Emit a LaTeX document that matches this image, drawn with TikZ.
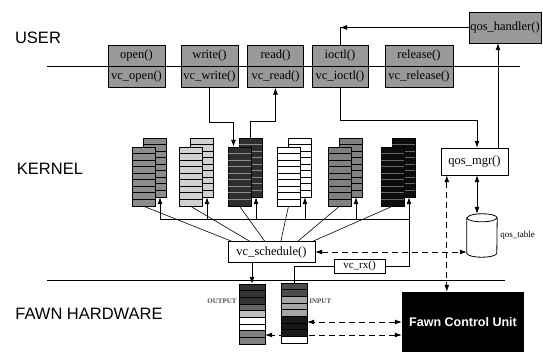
\documentclass[tikz,border=0pt]{standalone}
\usepackage{fontspec}
\setmainfont{Liberation Serif}
\setsansfont{Liberation Sans}
\usepackage{tikz}
\usetikzlibrary{arrows.meta, positioning, shapes.geometric, calc}

\begin{document}
\begin{tikzpicture}[x=1pt, y=-1pt,
    layer/.style={font=\sffamily\fontsize{16.5}{18}\selectfont, inner sep=0pt},
    ubox/.style={rectangle, draw, fill=black!40, minimum width=57pt, minimum height=21pt, inner sep=0pt, font=\fontsize{12.5}{13}\selectfont},
    fbox/.style={rectangle, draw, fill=white, inner sep=0pt, font=\fontsize{12.5}{13}\selectfont},
    queue/.style={rectangle, draw, minimum width=23pt, minimum height=59pt, inner sep=0pt},
    buf/.style={rectangle, draw, minimum width=26pt, minimum height=60pt, inner sep=0pt},
    buflbl/.style={font=\bfseries\fontsize{7}{7}\selectfont, text=black!70, inner sep=0pt},
    arr/.style={-{Latex[length=7pt,width=5pt]}, thick},
    darr/.style={{Latex[length=7pt,width=5pt]}-{Latex[length=7pt,width=5pt]}, thick, dash pattern=on 6pt off 4pt}
]
\useasboundingbox (0,0) rectangle (543,352);

\node[layer] (user) at (38,37.5) {USER};
\node[layer] (kernel) at (50,168.5) {KERNEL};
\node[layer] (hw) at (89,314) {FAWN HARDWARE};
\draw[thick] (47,66) -- (520,66);
\draw[thick] (47,280) -- (505,280);

% system calls
\node[ubox] (open) at (136.5,55.5) {open()};
\node[ubox, below=0pt of open] (vcopen) {vc\_open()};
\node[ubox] (write) at (209.5,55.5) {write()};
\node[ubox, below=0pt of write] (vcwrite) {vc\_write()};
\node[ubox, minimum width=56pt] (read) at (275.5,55.5) {read()};
\node[ubox, minimum width=56pt, below=0pt of read] (vcread) {vc\_read()};
\node[ubox, minimum width=56pt] (ioctl) at (340,55.5) {ioctl()};
\node[ubox, minimum width=56pt, below=0pt of ioctl] (vcioctl) {vc\_ioctl()};
\node[ubox, minimum width=68pt] (release) at (419,55.5) {release()};
\node[ubox, minimum width=68pt, below=0pt of release] (vcrelease) {vc\_release()};
\node[ubox, minimum width=72pt, minimum height=31pt] (qh) at (505,27.5) {qos\_handler()};

\draw[thick] (ioctl.north) -- (ioctl.north |- qh.west) coordinate (bend);
\draw[arr] (qh.west) -- (bend);

% queues
\foreach \n/\x/\c/\s in {1/132/black!45/black, 2/179/black!18/black, 3/228/black!82/black!45, 4/277/white/black, 5/328/black!50/black, 6/381/black!95/black!60} {
  \node[queue, fill=\c] (qb\n) at (\x+22.5,167.5) {};
  \foreach \k in {1,...,8}
    \draw[\s] ([yshift=-\k*6.55pt]qb\n.north west) -- ([yshift=-\k*6.55pt]qb\n.north east);
  \node[queue, fill=\c] (qf\n) at (\x+11.5,176.5) {};
  \foreach \k in {1,...,8}
    \draw[\s] ([yshift=-\k*6.55pt]qf\n.north west) -- ([yshift=-\k*6.55pt]qf\n.north east);
}

\draw[arr] (vcwrite.south) -- ++(0,35) -| ([xshift=-6pt]qf3.north);
\draw[arr] (qb3.north) -- ++(0,-16) -| (vcread.south);

% kernel functions
\node[fbox, minimum width=87pt, minimum height=21pt] (vcsched) at (271.5,252) {vc\_schedule()};
\node[fbox, minimum width=51pt, minimum height=14pt, font=\fontsize{11}{11}\selectfont] (vcrx) at (359.5,266) {vc\_rx()};
\node[fbox, minimum width=67pt, minimum height=27pt] (qmgr) at (474.5,161.5) {qos\_mgr()};
\node[minimum width=30pt, minimum height=43pt, inner sep=0pt] (qtable) at (482,235.5) {};
\draw[thick, fill=white] ([yshift=-4pt]qtable.north west) -- ([yshift=4pt]qtable.south west)
  arc[start angle=180, end angle=360, x radius=15pt, y radius=4pt]
  -- ([yshift=-4pt]qtable.north east)
  arc[start angle=0, end angle=180, x radius=15pt, y radius=4pt] -- cycle;
\draw[thick] ([yshift=-4pt]qtable.north west) arc[start angle=180, end angle=360, x radius=15pt, y radius=4pt];
\node[right=3pt of qtable, font=\fontsize{9}{9}\selectfont, inner sep=0pt] (qtlbl) {qos\_table};

\coordinate (bus1) at ([xshift=5.5pt, yshift=-22pt]qb1.south);
\coordinate (bus6) at ([xshift=5.5pt, yshift=-22pt]qb6.south);
\draw[thick] (bus1) -- (bus6);
\foreach \n in {1,...,5}
  \draw[arr] ([xshift=5.5pt]qb\n.south |- bus1) -- ([xshift=5.5pt]qb\n.south);
\draw[arr] (vcrx.east) -| ([xshift=5.5pt]qb6.south);
\foreach \n/\o in {1/4, 2/22, 3/37, 4/53, 5/70, 6/85}
  \draw[semithick] (qf\n.south) -- ([xshift=\o pt]vcsched.north west);

\draw[arr] (vcioctl.south) -- ++(0,33) -| ([xshift=2.5pt]qmgr.north);
\draw[arr] ([xshift=23.5pt]qmgr.north) -- ([xshift=23.5pt]qmgr.north |- qh.south);
\draw[{Latex[length=7pt,width=5pt]}-{Latex[length=7pt,width=5pt]}, thick] ([xshift=-5pt]qtable.north |- qmgr.south) -- ([xshift=-5pt]qtable.north);

% hardware
\node[rectangle, fill=black, minimum width=122pt, minimum height=60pt, text=white, font=\sffamily\bfseries\fontsize{12.5}{13}\selectfont] (fcu) at (463,322) {Fawn Control Unit};

\node[buf] (outbuf) at (252,314) {};
\foreach \k/\c in {0/black!80, 1/black!80, 2/black!80, 3/black!60, 4/black!25, 5/white, 6/white, 7/black!50, 8/black!50}
  \filldraw[fill=\c] ([yshift=-\k*6.667pt]outbuf.north west) rectangle ([yshift=-\k*6.667pt-6.667pt]outbuf.north east);
\node[buflbl, left=2pt of outbuf, yshift=13pt] (outlbl) {OUTPUT};

\draw[darr] ([yshift=-13pt]fcu.west) -- ([yshift=-13pt]fcu.west -| outbuf.east);

\node[buf] (inbuf) at (294,313) {};
\foreach \k/\c in {0/black!70, 1/black!70, 2/black!35, 3/black!35, 4/black!35, 5/black!90, 6/black!90, 7/black!90, 8/white}
  \filldraw[fill=\c] ([yshift=-\k*6.667pt]inbuf.north west) rectangle ([yshift=-\k*6.667pt-6.667pt]inbuf.north east);
\node[buflbl, right=2pt of inbuf, yshift=12pt] (inlbl) {INPUT};

\draw[arr] (outbuf.north |- vcsched.south) -- (outbuf.north);
\draw[thick] (inbuf.north) |- (vcrx.west);
\draw[darr] (fcu.west) -- (fcu.west -| inbuf.east);
\draw[darr] (vcsched.east) -- (vcsched.east -| qtable.west);
\draw[darr] ([xshift=6pt]qmgr.south west) -- ([xshift=6pt]qmgr.south west |- fcu.north);
\end{tikzpicture}
\end{document}
